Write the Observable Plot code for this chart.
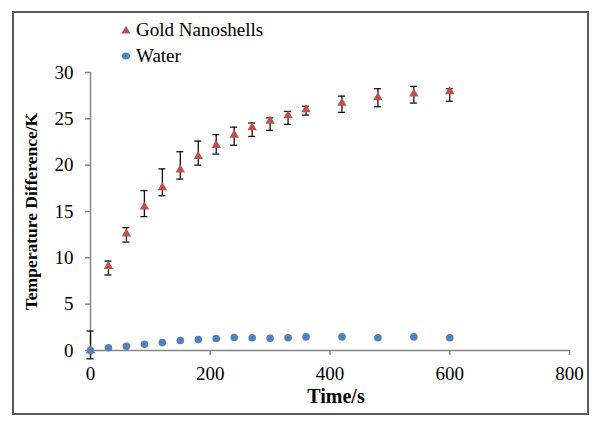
<!DOCTYPE html>
<html><head><meta charset="utf-8">
<script src="https://cdn.jsdelivr.net/npm/d3@7"></script>
<script src="https://cdn.jsdelivr.net/npm/@observablehq/plot@0.6"></script>
<style>
html,body{margin:0;padding:0;background:#fff;}
#wrap{position:relative;width:600px;height:422px;font-family:'Times New Roman','Liberation Serif',serif;overflow:hidden;}
#frame{position:absolute;left:12px;top:11px;width:577px;height:404px;border:2px solid #595959;box-sizing:border-box;pointer-events:none;}
.leg{position:absolute;left:136px;font-size:19px;line-height:26px;height:26px;white-space:nowrap;color:#000;}
.leg svg{position:absolute;left:-15px;top:8px;}
#chart{position:absolute;left:0;top:0;}
</style>
</head><body>
<div id="wrap">
  <div id="chart"></div>
  <div id="frame"></div>
  <div class="leg" id="leg1" style="top:17px"></div>
  <div class="leg" id="leg2" style="top:43px"></div>
</div>
<script>
// ---- data ----
const seriesNames = ["Gold Nanoshells", "Water"];
const seriesColors = ["#C0504D", "#4F81BD"];
const goldTimes = [0, 30, 60, 90, 120, 150, 180, 210, 240, 270, 300, 330, 360, 420, 480, 540, 600];
const goldValues = [0, 9.1, 12.6, 15.5, 17.6, 19.5, 20.95, 22.15, 23.25, 24.05, 24.75, 25.35, 26.0, 26.7, 27.3, 27.7, 27.95];
const goldHigh = [2.1, 9.65, 13.25, 17.25, 19.6, 21.45, 22.6, 23.3, 24.1, 24.55, 25.1, 25.8, 26.35, 27.45, 28.25, 28.5, 28.25];
const goldLow = [-0.9, 8.15, 11.7, 14.45, 16.7, 18.5, 20.0, 21.2, 22.15, 23.1, 23.75, 24.4, 25.4, 25.7, 26.3, 26.7, 26.9];
const waterTimes = [0, 30, 60, 90, 120, 150, 180, 210, 240, 270, 300, 330, 360, 420, 480, 540, 600];
const waterValues = [0, 0.29, 0.46, 0.68, 0.86, 1.08, 1.19, 1.29, 1.4, 1.37, 1.31, 1.37, 1.47, 1.47, 1.37, 1.47, 1.37];
const xTicks = [0, 200, 400, 600, 800];
const yTicks = [0, 5, 10, 15, 20, 25, 30];
const xTitle = "Time/s";
const yTitle = "Temperature Difference/K";

const gold = goldTimes.map((t, i) => ({t, v: goldValues[i], lo: goldLow[i], hi: goldHigh[i]}));
const water = waterTimes.map((t, i) => ({t, v: waterValues[i]}));

const axisColor = "#868686";
const serif = "'Times New Roman','Liberation Serif',serif";

const chart = Plot.plot({
  width: 600, height: 422,
  marginLeft: 90, marginRight: 31, marginTop: 72, marginBottom: 72,
  style: {fontFamily: serif, fontSize: "19px", color: "#000", background: "transparent", overflow: "visible"},
  x: {domain: [0, 800], label: null},
  y: {domain: [0, 30], label: null},
  marks: [
    Plot.axisX({ticks: xTicks, tickSize: 5, tickPadding: 11, stroke: axisColor, strokeWidth: 1.5, fill: "#000", label: null, tickFormat: d => String(d)}),
    Plot.axisY({ticks: yTicks, tickSize: 5, tickPadding: 12, stroke: axisColor, strokeWidth: 1.5, fill: "#000", label: null, tickFormat: d => String(d)}),
    Plot.ruleX([0], {stroke: axisColor, strokeWidth: 1.5}),
    Plot.ruleY([0], {stroke: axisColor, strokeWidth: 1.5}),
    // error bars
    Plot.ruleX(gold, {x: "t", y1: "lo", y2: "hi", stroke: "#111", strokeWidth: 1.3}),
    Plot.ruleY(gold, {x1: "t", x2: "t", y: "hi", insetLeft: -3.5, insetRight: -3.5, stroke: "#111", strokeWidth: 1.3}),
    Plot.ruleY(gold, {x1: "t", x2: "t", y: "lo", insetLeft: -3.5, insetRight: -3.5, stroke: "#111", strokeWidth: 1.3}),
    Plot.dot(gold, {x: "t", y: "v", symbol: "triangle", fill: seriesColors[0], r: 3.5}),
    Plot.dot(water, {x: "t", y: "v", symbol: "circle", fill: seriesColors[1], r: 3.8}),
    Plot.text([xTitle], {frameAnchor: "bottom", textAnchor: "middle", dx: 6, dy: 52, fontWeight: "bold", fontSize: 20, fill: "#000"}),
    Plot.text([yTitle], {frameAnchor: "left", textAnchor: "middle", rotate: -90, dx: -59, dy: 0, fontWeight: "bold", fontSize: 17.5, fill: "#000"})
  ]
});
document.getElementById("chart").appendChild(chart);

// legend
const leg1 = document.getElementById("leg1");
leg1.innerHTML = `<svg width="10" height="10" viewBox="-5 -5 10 10"><path d="M0,-4.2L4.5,3.6L-4.5,3.6Z" fill="${seriesColors[0]}"/></svg>`;
leg1.appendChild(document.createTextNode(seriesNames[0]));
const leg2 = document.getElementById("leg2");
leg2.innerHTML = `<svg width="10" height="10" viewBox="-5 -5 10 10"><ellipse cx="0" cy="0" rx="4" ry="3.6" fill="${seriesColors[1]}"/></svg>`;
leg2.appendChild(document.createTextNode(seriesNames[1]));
</script>
</body></html>
